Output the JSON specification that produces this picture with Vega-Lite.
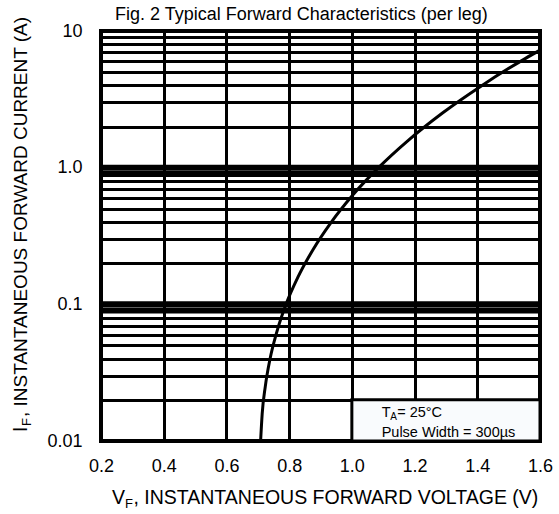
{
  "$schema": "https://vega.github.io/schema/vega-lite/v6.json",
  "autosize": {"type": "none"},
  "padding": {"left": 101, "top": 31, "right": 19, "bottom": 73},
  "width": 439,
  "height": 410,
  "background": "white",
  "config": {
    "font": "Liberation Sans",
    "view": {"stroke": "black", "strokeWidth": 4},
    "text": {"font": "Liberation Sans", "color": "black"}
  },
  "title": {
    "text": "Fig. 2 Typical Forward Characteristics (per leg)",
    "font": "Liberation Sans",
    "fontSize": 18,
    "fontWeight": "normal",
    "color": "black",
    "anchor": "start",
    "frame": "group",
    "dx": 14,
    "baseline": "alphabetic",
    "offset": -21
  },
  "encoding": {
    "x": {
      "type": "quantitative",
      "scale": {"domain": [0.2, 1.6], "nice": false, "zero": false},
      "axis": {
        "title": null,
        "values": [0.2, 0.4, 0.6, 0.8, 1.0, 1.2, 1.4, 1.6],
        "format": ".1f",
        "grid": true,
        "gridColor": "black",
        "gridWidth": 3,
        "gridOpacity": 1,
        "domain": false,
        "ticks": false,
        "tickSize": 0,
        "labelFontSize": 18,
        "labelFont": "Liberation Sans",
        "labelColor": "black",
        "labelPadding": 16,
        "labelFlush": false,
        "labelOverlap": false
      }
    },
    "y": {
      "type": "quantitative",
      "scale": {"type": "log", "domain": [0.01, 10], "nice": false},
      "axis": {
        "title": null,
        "values": [0.01, 0.02, 0.03, 0.04, 0.05, 0.06, 0.07, 0.08, 0.09, 0.1, 0.2, 0.3, 0.4, 0.5, 0.6, 0.7, 0.8, 0.9, 1, 2, 3, 4, 5, 6, 7, 8, 9, 10],
        "labelExpr": "datum.value == 0.01 ? '0.01' : datum.value == 0.1 ? '0.1' : datum.value == 1 ? '1.0' : datum.value == 10 ? '10' : ''",
        "grid": true,
        "gridColor": "black",
        "gridWidth": 3,
        "gridOpacity": 1,
        "domain": false,
        "ticks": false,
        "tickSize": 0,
        "labelFontSize": 18,
        "labelFont": "Liberation Sans",
        "labelColor": "black",
        "labelPadding": 19,
        "labelFlush": false,
        "labelOverlap": false,
        "labelBaseline": "middle"
      }
    }
  },
  "layer": [
    {
      "data": {"values": [{"I": 0.09}, {"I": 0.1}, {"I": 0.9}, {"I": 1}]},
      "mark": {"type": "rule", "color": "black", "strokeWidth": 6},
      "encoding": {"y": {"field": "I", "type": "quantitative"}}
    },
    {
      "data": {"values": [{}]},
      "mark": {"type": "rect", "fill": "#f9fbfd", "stroke": "black", "strokeWidth": 3},
      "encoding": {
        "x": {"datum": 1.0, "type": "quantitative"},
        "x2": {"datum": 1.6},
        "y": {"datum": 0.01, "type": "quantitative"},
        "y2": {"datum": 0.02}
      }
    },
    {
      "data": {"values": [
        {"V": 0.709, "I": 0.01},
        {"V": 0.714, "I": 0.0158},
        {"V": 0.724, "I": 0.0251},
        {"V": 0.739, "I": 0.0398},
        {"V": 0.761, "I": 0.0631},
        {"V": 0.790, "I": 0.1},
        {"V": 0.828, "I": 0.158},
        {"V": 0.876, "I": 0.251},
        {"V": 0.934, "I": 0.398},
        {"V": 1.003, "I": 0.631},
        {"V": 1.085, "I": 1.0},
        {"V": 1.180, "I": 1.585},
        {"V": 1.289, "I": 2.51},
        {"V": 1.414, "I": 3.98},
        {"V": 1.554, "I": 6.31},
        {"V": 1.600, "I": 7.24}
      ]},
      "mark": {"type": "line", "color": "black", "strokeWidth": 3, "interpolate": "monotone", "clip": true},
      "encoding": {
        "x": {"field": "V", "type": "quantitative"},
        "y": {"field": "I", "type": "quantitative"}
      }
    },
    {
      "data": {"values": [{}]},
      "layer": [
        {
          "mark": {"type": "text", "text": "T", "fontSize": 14.5, "align": "left", "baseline": "alphabetic"},
          "encoding": {"x": {"datum": 1.095, "type": "quantitative"}, "y": {"datum": 0.01506, "type": "quantitative"}}
        },
        {
          "mark": {"type": "text", "text": "A", "fontSize": 10, "align": "left", "baseline": "alphabetic", "dx": 8.5, "dy": 3},
          "encoding": {"x": {"datum": 1.095, "type": "quantitative"}, "y": {"datum": 0.01506, "type": "quantitative"}}
        },
        {
          "mark": {"type": "text", "text": "= 25°C", "fontSize": 14.5, "align": "left", "baseline": "alphabetic", "dx": 15.5},
          "encoding": {"x": {"datum": 1.095, "type": "quantitative"}, "y": {"datum": 0.01506, "type": "quantitative"}}
        },
        {
          "mark": {"type": "text", "text": "Pulse Width = 300µs", "fontSize": 14.5, "align": "left", "baseline": "alphabetic"},
          "encoding": {"x": {"datum": 1.095, "type": "quantitative"}, "y": {"datum": 0.01075, "type": "quantitative"}}
        },
        {
          "mark": {"type": "text", "text": "V", "fontSize": 19.5, "align": "left", "baseline": "alphabetic"},
          "encoding": {"x": {"datum": 0.235, "type": "quantitative"}, "y": {"datum": 0.00346, "type": "quantitative"}}
        },
        {
          "mark": {"type": "text", "text": "F", "fontSize": 13, "align": "left", "baseline": "alphabetic", "dx": 13, "dy": 4},
          "encoding": {"x": {"datum": 0.235, "type": "quantitative"}, "y": {"datum": 0.00346, "type": "quantitative"}}
        },
        {
          "mark": {"type": "text", "text": ", INSTANTANEOUS FORWARD VOLTAGE (V)", "fontSize": 19.5, "align": "left", "baseline": "alphabetic", "dx": 21.5},
          "encoding": {"x": {"datum": 0.235, "type": "quantitative"}, "y": {"datum": 0.00346, "type": "quantitative"}}
        },
        {
          "mark": {"type": "text", "text": "I", "fontSize": 19.5, "align": "left", "baseline": "alphabetic", "angle": 270},
          "encoding": {"x": {"datum": -0.037, "type": "quantitative"}, "y": {"datum": 0.01164, "type": "quantitative"}}
        },
        {
          "mark": {"type": "text", "text": "F", "fontSize": 13, "align": "left", "baseline": "alphabetic", "angle": 270, "dx": 6, "dy": 4},
          "encoding": {"x": {"datum": -0.037, "type": "quantitative"}, "y": {"datum": 0.01164, "type": "quantitative"}}
        },
        {
          "mark": {"type": "text", "text": ", INSTANTANEOUS FORWARD CURRENT (A)", "fontSize": 19, "align": "left", "baseline": "alphabetic", "angle": 270, "dx": 15},
          "encoding": {"x": {"datum": -0.037, "type": "quantitative"}, "y": {"datum": 0.01164, "type": "quantitative"}}
        }
      ]
    }
  ]
}
